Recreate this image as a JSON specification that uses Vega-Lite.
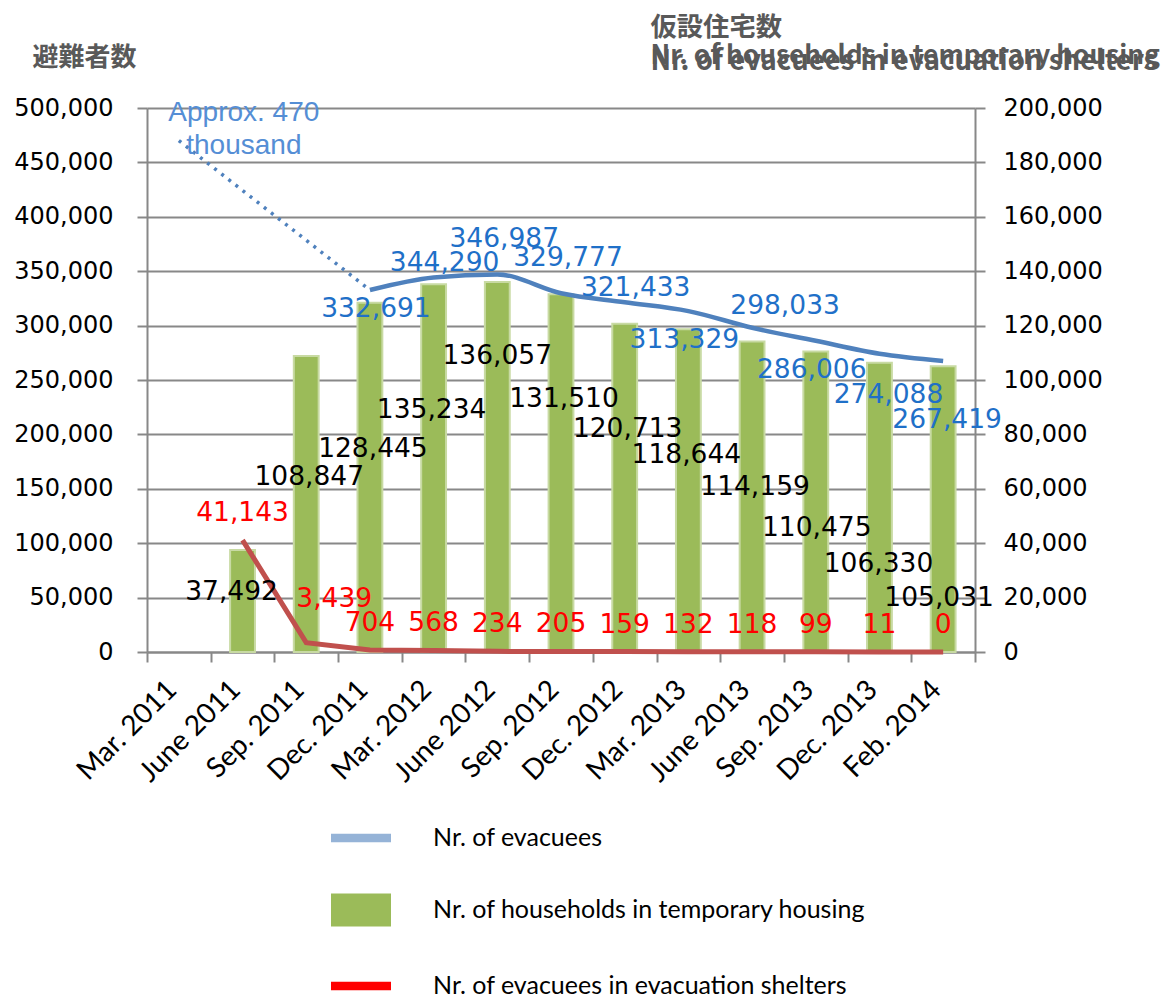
{
  "$schema": "https://vega.github.io/schema/vega-lite/v6.json",
  "width": 828,
  "height": 544,
  "autosize": {"type": "none"},
  "padding": {"left": 147, "top": 108, "right": 190, "bottom": 344},
  "background": "white",
  "config": {"view": {"stroke": null}},
  "datasets": {
    "main": [
      {"month": "Mar. 2011", "evacuees": null, "households": null, "shelters": null},
      {"month": "June 2011", "evacuees": null, "households": 37492, "shelters": 41143},
      {"month": "Sep. 2011", "evacuees": null, "households": 108847, "shelters": 3439},
      {"month": "Dec. 2011", "evacuees": 332691, "households": 128445, "shelters": 704},
      {"month": "Mar. 2012", "evacuees": 344290, "households": 135234, "shelters": 568},
      {"month": "June 2012", "evacuees": 346987, "households": 136057, "shelters": 234},
      {"month": "Sep. 2012", "evacuees": 329777, "households": 131510, "shelters": 205},
      {"month": "Dec. 2012", "evacuees": 321433, "households": 120713, "shelters": 159},
      {"month": "Mar. 2013", "evacuees": 313329, "households": 118644, "shelters": 132},
      {"month": "June 2013", "evacuees": 298033, "households": 114159, "shelters": 118},
      {"month": "Sep. 2013", "evacuees": 286006, "households": 110475, "shelters": 99},
      {"month": "Dec. 2013", "evacuees": 274088, "households": 106330, "shelters": 11},
      {"month": "Feb. 2014", "evacuees": 267419, "households": 105031, "shelters": 0}
    ],
    "est": [
      {"month": "Mar. 2011", "evacuees": 470000, "note": "Approx. 470\nthousand"},
      {"month": "Dec. 2011", "evacuees": 332691, "note": null}
    ]
  },
  "data": {"name": "main"},
  "encoding": {
    "x": {
      "field": "month", "type": "nominal", "sort": null,
      "scale": {"domain": ["Mar. 2011","June 2011","Sep. 2011","Dec. 2011","Mar. 2012","June 2012","Sep. 2012","Dec. 2012","Mar. 2013","June 2013","Sep. 2013","Dec. 2013","Feb. 2014"], "paddingInner": 0, "paddingOuter": 0},
      "axis": {
        "title": "Nr. of evacuees in evacuation shelters",
        "titleX": 503, "titleY": -583, "titleAlign": "left", "titleBaseline": "alphabetic", "titleAngle": 0,
        "titleFont": "Noto Sans CJK JP", "titleFontSize": 27.5, "titleFontWeight": "bold", "titleColor": "#595959",
        "labelAngle": -45, "labelAlign": "right", "labelBaseline": "alphabetic", "labelOffset": -1,
        "labelFont": "Lato", "labelFontSize": 28, "labelColor": "#000000", "labelPadding": 29,
        "labelOverlap": false, "labelBound": false, "labelFlush": false,
        "tickBand": "extent", "tickSize": 10, "tickColor": "#888888", "tickWidth": 2,
        "domainColor": "#888888", "domainWidth": 2, "grid": false
      }
    }
  },
  "layer": [
    {
      "transform": [{"fold": ["households", "shelters"], "as": ["series", "value"]}],
      "encoding": {
        "y": {
          "field": "value", "type": "quantitative",
          "scale": {"domain": [0, 200000], "nice": false},
          "axis": {
            "orient": "right", "values": [0,20000,40000,60000,80000,100000,120000,140000,160000,180000,200000], "format": ",.0f",
            "labelFont": "DejaVu Sans", "labelFontSize": 24, "labelColor": "#000000", "labelPadding": 18,
            "tickSize": 10, "tickColor": "#888888", "tickWidth": 2, "domainColor": "#888888", "domainWidth": 2, "grid": false,
            "title": ["仮設住宅数", "Nr. of households in temporary housing"],
            "titleX": -325, "titleY": -73, "titleAlign": "left", "titleBaseline": "alphabetic", "titleAngle": 0, "titleLineHeight": 28,
            "titleFont": "Noto Sans CJK JP", "titleFontSize": 26.3, "titleFontWeight": "bold", "titleColor": "#595959"
          }
        }
      },
      "layer": [
        {
          "transform": [{"filter": "datum.series == 'households'"}],
          "mark": {"type": "bar", "width": {"band": 0.39}, "fill": "#9BBB59", "stroke": "#C8DAA3", "strokeWidth": 2}
        },
        {
          "transform": [{"filter": "datum.series == 'shelters'"}],
          "mark": {"type": "line", "color": "#C0504D", "strokeWidth": 5}
        },
        {
          "transform": [{"filter": "datum.series == 'households' && datum.month == 'June 2011'"}],
          "mark": {"type": "text", "font": "DejaVu Sans", "fontSize": 26.5, "color": "#000000", "baseline": "middle", "dx": -11, "dy": 42},
          "encoding": {"text": {"field": "value", "type": "quantitative", "format": ","}}
        },
        {
          "transform": [{"filter": "datum.series == 'households' && datum.month == 'Sep. 2011'"}],
          "mark": {"type": "text", "font": "DejaVu Sans", "fontSize": 26.5, "color": "#000000", "baseline": "middle", "dx": 3, "dy": 121},
          "encoding": {"text": {"field": "value", "type": "quantitative", "format": ","}}
        },
        {
          "transform": [{"filter": "datum.series == 'households' && indexof(['Dec. 2011', 'June 2013'], datum.month) >= 0"}],
          "mark": {"type": "text", "font": "DejaVu Sans", "fontSize": 26.5, "color": "#000000", "baseline": "middle", "dx": 3, "dy": 146},
          "encoding": {"text": {"field": "value", "type": "quantitative", "format": ","}}
        },
        {
          "transform": [{"filter": "datum.series == 'households' && indexof(['Mar. 2012', 'Mar. 2013'], datum.month) >= 0"}],
          "mark": {"type": "text", "font": "DejaVu Sans", "fontSize": 26.5, "color": "#000000", "baseline": "middle", "dx": -2, "dy": 126},
          "encoding": {"text": {"field": "value", "type": "quantitative", "format": ","}}
        },
        {
          "transform": [{"filter": "datum.series == 'households' && datum.month == 'June 2012'"}],
          "mark": {"type": "text", "font": "DejaVu Sans", "fontSize": 26.5, "color": "#000000", "baseline": "middle", "dx": 0, "dy": 74},
          "encoding": {"text": {"field": "value", "type": "quantitative", "format": ","}}
        },
        {
          "transform": [{"filter": "datum.series == 'households' && indexof(['Sep. 2012', 'Dec. 2012'], datum.month) >= 0"}],
          "mark": {"type": "text", "font": "DejaVu Sans", "fontSize": 26.5, "color": "#000000", "baseline": "middle", "dx": 3, "dy": 105},
          "encoding": {"text": {"field": "value", "type": "quantitative", "format": ","}}
        },
        {
          "transform": [{"filter": "datum.series == 'households' && datum.month == 'Sep. 2013'"}],
          "mark": {"type": "text", "font": "DejaVu Sans", "fontSize": 26.5, "color": "#000000", "baseline": "middle", "dx": 1, "dy": 176},
          "encoding": {"text": {"field": "value", "type": "quantitative", "format": ","}}
        },
        {
          "transform": [{"filter": "datum.series == 'households' && datum.month == 'Dec. 2013'"}],
          "mark": {"type": "text", "font": "DejaVu Sans", "fontSize": 26.5, "color": "#000000", "baseline": "middle", "dx": -1, "dy": 201},
          "encoding": {"text": {"field": "value", "type": "quantitative", "format": ","}}
        },
        {
          "transform": [{"filter": "datum.series == 'households' && datum.month == 'Feb. 2014'"}],
          "mark": {"type": "text", "font": "DejaVu Sans", "fontSize": 26.5, "color": "#000000", "baseline": "middle", "dx": -4, "dy": 232},
          "encoding": {"text": {"field": "value", "type": "quantitative", "format": ","}}
        },
        {
          "transform": [{"filter": "datum.series == 'shelters' && datum.value != null && datum.month != 'Sep. 2011'"}],
          "mark": {"type": "text", "font": "DejaVu Sans", "fontSize": 26.5, "color": "#FF0000", "baseline": "middle", "dy": -27},
          "encoding": {"text": {"field": "value", "type": "quantitative", "format": ","}}
        },
        {
          "transform": [{"filter": "datum.series == 'shelters' && datum.month == 'Sep. 2011'"}],
          "mark": {"type": "text", "font": "DejaVu Sans", "fontSize": 26.5, "color": "#FF0000", "baseline": "middle", "dx": 28, "dy": -44},
          "encoding": {"text": {"field": "value", "type": "quantitative", "format": ","}}
        }
      ]
    },
    {
      "encoding": {
        "y": {
          "field": "evacuees", "type": "quantitative",
          "scale": {"domain": [0, 500000], "nice": false},
          "axis": {
            "orient": "left", "values": [0,50000,100000,150000,200000,250000,300000,350000,400000,450000,500000], "format": ",.0f",
            "labelFont": "DejaVu Sans", "labelFontSize": 24, "labelColor": "#000000", "labelPadding": 24,
            "tickSize": 10, "tickColor": "#888888", "tickWidth": 2, "domainColor": "#888888", "domainWidth": 2,
            "grid": true, "gridColor": "#888888", "gridWidth": 2,
            "title": "避難者数", "titleX": -115, "titleY": -43, "titleAlign": "left", "titleBaseline": "alphabetic", "titleAngle": 0,
            "titleFont": "Noto Sans CJK JP", "titleFontSize": 26, "titleFontWeight": "bold", "titleColor": "#595959"
          }
        }
      },
      "layer": [
        {
          "data": {"name": "est"},
          "mark": {"type": "line", "color": "#4F81BD", "strokeWidth": 3.5, "strokeDash": [3, 6]}
        },
        {
          "data": {"name": "est"},
          "transform": [{"filter": "datum.note != null"}],
          "mark": {"type": "text", "font": "Liberation Sans", "fontSize": 28, "color": "#558ED5", "lineBreak": "\n", "lineHeight": 33, "align": "center", "baseline": "middle", "dx": 65, "dy": -28},
          "encoding": {"text": {"field": "note", "type": "nominal"}}
        },
        {
          "mark": {"type": "line", "color": "#4F81BD", "strokeWidth": 4.5, "interpolate": "monotone"}
        },
        {
          "transform": [{"filter": {"field": "month", "oneOf": ["Mar. 2012", "Dec. 2012"]}}],
          "mark": {"type": "text", "font": "DejaVu Sans", "fontSize": 26.5, "color": "#1F70C8", "baseline": "middle", "dx": 11, "dy": -14},
          "encoding": {"text": {"field": "evacuees", "type": "quantitative", "format": ","}}
        },
        {
          "transform": [{"filter": {"field": "month", "oneOf": ["June 2012", "Sep. 2012"]}}],
          "mark": {"type": "text", "font": "DejaVu Sans", "fontSize": 26.5, "color": "#1F70C8", "baseline": "middle", "dx": 7, "dy": -35},
          "encoding": {"text": {"field": "evacuees", "type": "quantitative", "format": ","}}
        },
        {
          "transform": [{"filter": {"field": "month", "oneOf": ["June 2013"]}}],
          "mark": {"type": "text", "font": "DejaVu Sans", "fontSize": 26.5, "color": "#1F70C8", "baseline": "middle", "dx": 33, "dy": -22},
          "encoding": {"text": {"field": "evacuees", "type": "quantitative", "format": ","}}
        },
        {
          "transform": [{"filter": {"field": "month", "oneOf": ["Dec. 2011"]}}],
          "mark": {"type": "text", "font": "DejaVu Sans", "fontSize": 26.5, "color": "#1F70C8", "baseline": "middle", "dx": 6, "dy": 19},
          "encoding": {"text": {"field": "evacuees", "type": "quantitative", "format": ","}}
        },
        {
          "transform": [{"filter": {"field": "month", "oneOf": ["Mar. 2013", "Sep. 2013"]}}],
          "mark": {"type": "text", "font": "DejaVu Sans", "fontSize": 26.5, "color": "#1F70C8", "baseline": "middle", "dx": -4, "dy": 29},
          "encoding": {"text": {"field": "evacuees", "type": "quantitative", "format": ","}}
        },
        {
          "transform": [{"filter": {"field": "month", "oneOf": ["Dec. 2013"]}}],
          "mark": {"type": "text", "font": "DejaVu Sans", "fontSize": 26.5, "color": "#1F70C8", "baseline": "middle", "dx": 9, "dy": 41},
          "encoding": {"text": {"field": "evacuees", "type": "quantitative", "format": ","}}
        },
        {
          "transform": [{"filter": {"field": "month", "oneOf": ["Feb. 2014"]}}],
          "mark": {"type": "text", "font": "DejaVu Sans", "fontSize": 26.5, "color": "#1F70C8", "baseline": "middle", "dx": 4, "dy": 59},
          "encoding": {"text": {"field": "evacuees", "type": "quantitative", "format": ","}}
        }
      ]
    },
    {
      "transform": [{"fold": ["evacuees", "households", "shelters"], "as": ["series", "v"]}],
      "mark": {"type": "square", "opacity": 0},
      "encoding": {
        "color": {
          "field": "series", "type": "nominal",
          "scale": {"domain": ["evacuees", "households", "shelters"], "range": ["#95B3D7", "#9BBB59", "#FF0000"]},
          "legend": {
            "orient": "none", "legendX": 184, "legendY": 700, "title": null, "padding": 0,
            "symbolSize": 3600, "symbolStrokeWidth": 0, "rowPadding": 29,
            "labelFont": "Lato", "labelFontSize": 25, "labelColor": "#000000", "labelOffset": 42, "labelLimit": 0,
            "labelExpr": "datum.value == 'evacuees' ? 'Nr. of evacuees' : datum.value == 'households' ? 'Nr. of households in temporary housing' : 'Nr. of evacuees in evacuation shelters'",
            "encode": {"symbols": {"update": {
              "shape": {"signal": "datum.value == 'households' ? 'M-1,-0.55H1V0.55H-1Z' : 'M-1,-0.14H1V0.14H-1Z'"},
              "opacity": {"value": 1}
            }}}
          }
        }
      }
    }
  ],
  "resolve": {"scale": {"y": "independent"}, "axis": {"y": "independent"}}
}
